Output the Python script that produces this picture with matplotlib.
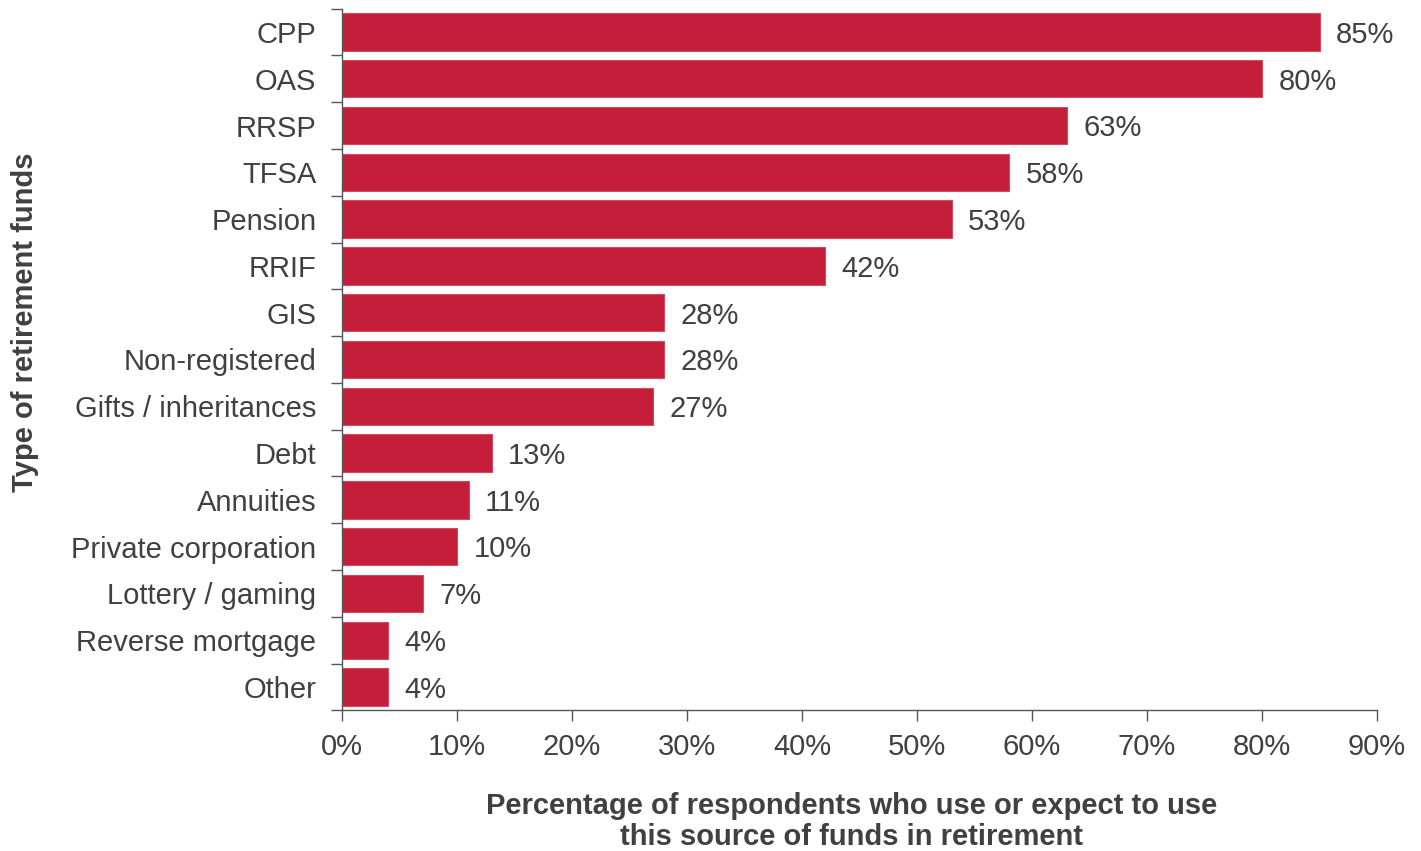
import matplotlib
matplotlib.use("Agg")
import matplotlib.pyplot as plt
import numpy as np

categories = ["CPP", "OAS", "RRSP", "TFSA", "Pension", "RRIF", "GIS", "Non-registered",
              "Gifts / inheritances", "Debt", "Annuities", "Private corporation",
              "Lottery / gaming", "Reverse mortgage", "Other"]
values = [85, 80, 63, 58, 53, 42, 28, 28, 27, 13, 11, 10, 7, 4, 4]
xticks = [0, 10, 20, 30, 40, 50, 60, 70, 80, 90]

plt.rcParams['font.family'] = ['Liberation Sans', 'DejaVu Sans']
txt = '#404040'
fs = 21
fig = plt.figure(figsize=(14.21, 8.51), dpi=100)
ax = fig.add_axes([342/1421, 1-710.4/851, (1377-342)/1421, (710.4-8.6)/851])

y = np.arange(len(categories))
ax.barh(y, values, height=0.8, color='#C41E3A', edgecolor='#D04A60', linewidth=0.8)
for yi, v in zip(y, values):
    ax.text(v + 1.45, yi + 0.06, f"{v}%", va='center', ha='left', fontsize=fs, color=txt)

ax.set_ylim(len(categories) - 0.5, -0.5)
ax.set_xlim(0, 90)
ax.set_yticks(y)
ax.set_yticklabels(categories, fontsize=fs, color=txt)
ax.tick_params(axis='y', length=0, pad=18.5)
ax.set_yticks(np.arange(-0.5, len(categories), 1), minor=True)
ax.tick_params(axis='y', which='minor', length=8, width=1, color='#555555')
ax.set_xticks(xticks)
ax.set_xticklabels([f"{t}%" for t in xticks], fontsize=fs, color=txt)
ax.tick_params(axis='x', length=8, width=1, color='#555555', pad=8)
for s in ['top', 'right']:
    ax.spines[s].set_visible(False)
for s in ['left', 'bottom']:
    ax.spines[s].set_color('#555555')
    ax.spines[s].set_linewidth(1)

fig.text(852/1421, 1-821.5/851,
         "Percentage of respondents who use or expect to use\nthis source of funds in retirement",
         ha='center', va='center', fontsize=21, fontweight='bold', color=txt, linespacing=1.15)
fig.text(25/1421, 1-322/851, "Type of retirement funds", rotation=90, ha='center', va='center',
         fontsize=21, fontweight='bold', color=txt)

fig.savefig("out.png", dpi=100)
